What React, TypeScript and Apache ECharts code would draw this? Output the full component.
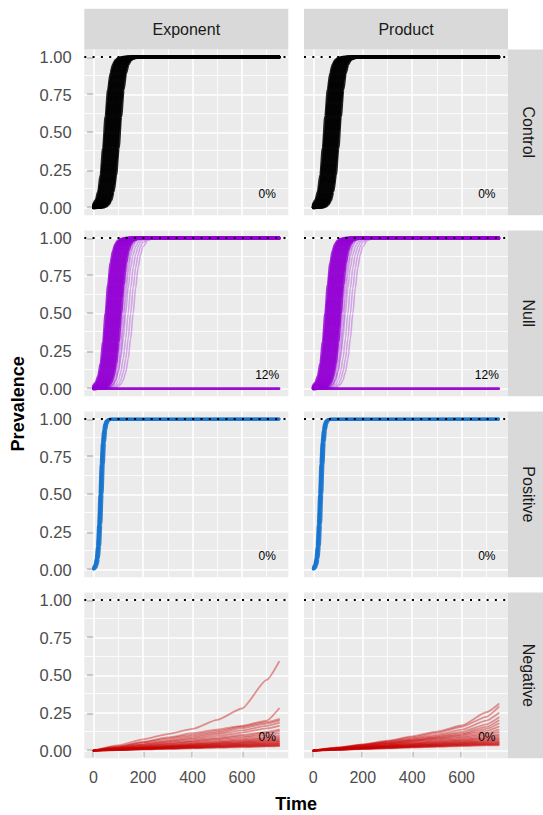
import React, { useEffect, useRef } from "react";
import * as echarts from "echarts";

const COLUMNS = ["Exponent", "Product"];
const ROWS = ["Control", "Null", "Positive", "Negative"];
const ROW_COLORS = ["#000000", "#9400D3", "#1874CD", "#C80000"];
const PCT_LABELS = [["0%", "0%"], ["12%", "12%"], ["0%", "0%"], ["0%", "0%"]];
const X_TICKS = [0, 200, 400, 600];
const X_MINOR = [100, 300, 500, 700];
const Y_TICKS = [0, 0.25, 0.5, 0.75, 1];
const Y_MINOR = [0.125, 0.375, 0.625, 0.875];
const REF_LEVEL = 1;

// time grid for the fast epidemics (Control / Null)
const TIME_FAST = [0, 10, 20, 30, 40, 50, 60, 70, 80, 90, 100, 110, 120, 130, 140, 150, 160, 170, 180, 190, 200, 220, 240, 260, 750];

const CONTROL_RUNS = [
  [0.021,0.049,0.107,0.218,0.395,0.605,0.782,0.893,0.951,0.979,0.991,0.996,0.998,0.999,1,1,1,1,1,1,1,1,1,1,1],
  [0.014,0.032,0.072,0.155,0.3,0.5,0.7,0.845,0.928,0.968,0.986,0.994,0.997,0.999,1,1,1,1,1,1,1,1,1,1,1],
  [0.009,0.021,0.049,0.107,0.218,0.395,0.605,0.782,0.893,0.951,0.979,0.991,0.996,0.998,0.999,1,1,1,1,1,1,1,1,1,1],
  [0.006,0.014,0.032,0.072,0.155,0.3,0.5,0.7,0.845,0.928,0.968,0.986,0.994,0.997,0.999,1,1,1,1,1,1,1,1,1,1],
  [0.004,0.009,0.021,0.049,0.107,0.218,0.395,0.605,0.782,0.893,0.951,0.979,0.991,0.996,0.998,0.999,1,1,1,1,1,1,1,1,1],
  [0.003,0.006,0.014,0.032,0.072,0.155,0.3,0.5,0.7,0.845,0.928,0.968,0.986,0.994,0.997,0.999,1,1,1,1,1,1,1,1,1],
  [0.002,0.004,0.009,0.021,0.049,0.107,0.218,0.395,0.605,0.782,0.893,0.951,0.979,0.991,0.996,0.998,0.999,1,1,1,1,1,1,1,1],
  [0.001,0.003,0.006,0.014,0.032,0.072,0.155,0.3,0.5,0.7,0.845,0.928,0.968,0.986,0.994,0.997,0.999,1,1,1,1,1,1,1,1],
  [0.001,0.002,0.004,0.009,0.021,0.049,0.107,0.218,0.395,0.605,0.782,0.893,0.951,0.979,0.991,0.996,0.998,0.999,1,1,1,1,1,1,1],
  [0.001,0.001,0.003,0.006,0.014,0.032,0.072,0.155,0.3,0.5,0.7,0.845,0.928,0.968,0.986,0.994,0.997,0.999,1,1,1,1,1,1,1],
  [0,0.001,0.002,0.004,0.009,0.021,0.049,0.107,0.218,0.395,0.605,0.782,0.893,0.951,0.979,0.991,0.996,0.998,0.999,1,1,1,1,1,1],
  [0,0.001,0.001,0.003,0.006,0.014,0.032,0.072,0.155,0.3,0.5,0.7,0.845,0.928,0.968,0.986,0.994,0.997,0.999,1,1,1,1,1,1],
  [0,0,0.001,0.002,0.004,0.009,0.021,0.049,0.107,0.218,0.395,0.605,0.782,0.893,0.951,0.979,0.991,0.996,0.998,0.999,1,1,1,1,1],
];

const NULL_CORE_RUNS = [
  [0.018,0.039,0.083,0.168,0.31,0.5,0.69,0.832,0.917,0.961,0.982,0.992,0.996,0.998,0.999,1,1,1,1,1,1,1,1,1,1],
  [0.012,0.027,0.057,0.119,0.231,0.401,0.599,0.769,0.881,0.943,0.973,0.988,0.994,0.998,0.999,1,1,1,1,1,1,1,1,1,1],
  [0.008,0.018,0.039,0.083,0.168,0.31,0.5,0.69,0.832,0.917,0.961,0.982,0.992,0.996,0.998,0.999,1,1,1,1,1,1,1,1,1],
  [0.005,0.012,0.027,0.057,0.119,0.231,0.401,0.599,0.769,0.881,0.943,0.973,0.988,0.994,0.998,0.999,1,1,1,1,1,1,1,1,1],
  [0.004,0.008,0.018,0.039,0.083,0.168,0.31,0.5,0.69,0.832,0.917,0.961,0.982,0.992,0.996,0.998,0.999,1,1,1,1,1,1,1,1],
  [0.002,0.005,0.012,0.027,0.057,0.119,0.231,0.401,0.599,0.769,0.881,0.943,0.973,0.988,0.994,0.998,0.999,1,1,1,1,1,1,1,1],
  [0.002,0.004,0.008,0.018,0.039,0.083,0.168,0.31,0.5,0.69,0.832,0.917,0.961,0.982,0.992,0.996,0.998,0.999,1,1,1,1,1,1,1],
  [0.001,0.002,0.005,0.012,0.027,0.057,0.119,0.231,0.401,0.599,0.769,0.881,0.943,0.973,0.988,0.994,0.998,0.999,1,1,1,1,1,1,1],
  [0.001,0.002,0.004,0.008,0.018,0.039,0.083,0.168,0.31,0.5,0.69,0.832,0.917,0.961,0.982,0.992,0.996,0.998,0.999,1,1,1,1,1,1],
  [0,0.001,0.002,0.005,0.012,0.027,0.057,0.119,0.231,0.401,0.599,0.769,0.881,0.943,0.973,0.988,0.994,0.998,0.999,1,1,1,1,1,1],
  [0,0.001,0.002,0.004,0.008,0.018,0.039,0.083,0.168,0.31,0.5,0.69,0.832,0.917,0.961,0.982,0.992,0.996,0.998,0.999,1,1,1,1,1],
  [0,0,0.001,0.002,0.005,0.012,0.027,0.057,0.119,0.231,0.401,0.599,0.769,0.881,0.943,0.973,0.988,0.994,0.998,0.999,1,1,1,1,1],
  [0,0,0.001,0.002,0.004,0.008,0.018,0.039,0.083,0.168,0.31,0.5,0.69,0.832,0.917,0.961,0.982,0.992,0.996,0.998,0.999,1,1,1,1],
];

const NULL_LATE_RUNS = [
  [0,0,0,0.001,0.002,0.005,0.012,0.027,0.057,0.119,0.231,0.401,0.599,0.769,0.881,0.943,0.973,0.988,0.994,0.998,0.999,1,1,1,1],
  [0,0,0,0.001,0.002,0.004,0.008,0.018,0.039,0.083,0.168,0.31,0.5,0.69,0.832,0.917,0.961,0.982,0.992,0.996,0.998,1,1,1,1],
  [0,0,0,0,0.001,0.002,0.005,0.012,0.027,0.057,0.119,0.231,0.401,0.599,0.769,0.881,0.943,0.973,0.988,0.994,0.998,1,1,1,1],
  [0,0,0,0.001,0.002,0.004,0.007,0.015,0.029,0.057,0.109,0.198,0.332,0.5,0.668,0.802,0.891,0.943,0.971,0.985,0.993,0.998,1,1,1],
  [0,0,0,0,0.001,0.002,0.004,0.007,0.015,0.029,0.057,0.109,0.198,0.332,0.5,0.668,0.802,0.891,0.943,0.971,0.985,0.996,0.999,1,1],
  [0,0,0,0,0,0.001,0.002,0.004,0.007,0.015,0.029,0.057,0.109,0.198,0.332,0.5,0.668,0.802,0.891,0.943,0.971,0.993,0.998,1,1],
  [0,0,0,0,0,0,0.001,0.002,0.004,0.007,0.015,0.029,0.057,0.109,0.198,0.332,0.5,0.668,0.802,0.891,0.943,0.985,0.996,0.999,1],
];

// runs that never took off (12%)
const NULL_FLAT_T = [0, 750];
const NULL_FLAT_V = [0, 0];

const TIME_POS = [0, 5, 10, 15, 20, 25, 30, 35, 40, 45, 50, 55, 60, 65, 70, 750];
const POSITIVE_RUNS = [
  [0.014,0.032,0.072,0.155,0.3,0.5,0.7,0.845,0.928,0.968,0.986,0.994,0.997,0.999,1,1],
  [0.009,0.021,0.049,0.107,0.218,0.395,0.605,0.782,0.893,0.951,0.979,0.991,0.996,0.998,0.999,1],
  [0.006,0.014,0.032,0.072,0.155,0.3,0.5,0.7,0.845,0.928,0.968,0.986,0.994,0.997,0.999,1],
  [0.003,0.006,0.014,0.032,0.072,0.155,0.3,0.5,0.7,0.845,0.928,0.968,0.986,0.994,0.997,1],
];

const TIME_NEG = [0, 100, 200, 300, 400, 500, 600, 700, 750];
const NEG_EXPONENT_RUNS = [
  [0,0.035,0.075,0.11,0.145,0.205,0.28,0.47,0.59],
  [0,0.027,0.058,0.088,0.116,0.14,0.165,0.2,0.28],
  [0,0.028,0.055,0.08,0.105,0.13,0.16,0.19,0.21],
  [0,0.022,0.047,0.07,0.095,0.12,0.15,0.18,0.2],
  [0,0.02,0.04,0.062,0.085,0.11,0.135,0.165,0.185],
  [0,0.019,0.038,0.058,0.077,0.098,0.12,0.148,0.165],
  [0,0.016,0.033,0.05,0.067,0.085,0.104,0.125,0.14],
  [0,0.015,0.03,0.046,0.062,0.078,0.095,0.116,0.13],
  [0,0.014,0.028,0.042,0.056,0.07,0.085,0.103,0.115],
  [0,0.012,0.025,0.037,0.05,0.062,0.075,0.09,0.1],
  [0,0.011,0.022,0.033,0.045,0.056,0.068,0.082,0.09],
  [0,0.01,0.021,0.031,0.041,0.052,0.063,0.075,0.082],
  [0,0.009,0.019,0.028,0.038,0.047,0.057,0.068,0.075],
  [0,0.009,0.018,0.027,0.036,0.045,0.054,0.063,0.068],
  [0,0.008,0.016,0.024,0.033,0.041,0.05,0.058,0.063],
  [0,0.008,0.015,0.023,0.031,0.038,0.046,0.054,0.058],
  [0,0.007,0.014,0.021,0.028,0.035,0.042,0.049,0.053],
  [0,0.006,0.013,0.019,0.026,0.032,0.039,0.045,0.049],
  [0,0.006,0.012,0.018,0.024,0.03,0.036,0.041,0.045],
  [0,0.005,0.011,0.016,0.022,0.027,0.033,0.038,0.041],
  [0,0.005,0.01,0.015,0.02,0.025,0.03,0.034,0.037],
  [0,0.004,0.009,0.013,0.018,0.022,0.027,0.031,0.033],
  [0,0.004,0.008,0.012,0.016,0.02,0.024,0.028,0.03],
];
const NEG_PRODUCT_RUNS = [
  [0,0.02,0.042,0.066,0.095,0.127,0.167,0.255,0.31],
  [0,0.021,0.04,0.062,0.088,0.118,0.158,0.225,0.29],
  [0,0.018,0.037,0.058,0.08,0.105,0.14,0.2,0.25],
  [0,0.017,0.035,0.054,0.075,0.097,0.125,0.175,0.22],
  [0,0.016,0.033,0.05,0.07,0.09,0.115,0.158,0.2],
  [0,0.015,0.031,0.048,0.066,0.085,0.107,0.145,0.18],
  [0,0.014,0.029,0.045,0.062,0.08,0.1,0.132,0.16],
  [0,0.013,0.027,0.042,0.058,0.074,0.092,0.118,0.14],
  [0,0.012,0.025,0.039,0.053,0.068,0.085,0.108,0.125],
  [0,0.011,0.023,0.036,0.049,0.062,0.077,0.096,0.11],
  [0,0.011,0.022,0.034,0.046,0.058,0.071,0.087,0.1],
  [0,0.01,0.021,0.032,0.043,0.054,0.066,0.08,0.09],
  [0,0.01,0.02,0.03,0.04,0.05,0.061,0.073,0.082],
  [0,0.009,0.019,0.028,0.037,0.047,0.057,0.067,0.075],
  [0,0.009,0.018,0.026,0.035,0.044,0.053,0.062,0.068],
  [0,0.008,0.017,0.025,0.033,0.041,0.049,0.057,0.062],
  [0,0.008,0.016,0.023,0.031,0.038,0.046,0.053,0.057],
  [0,0.007,0.015,0.022,0.029,0.036,0.043,0.049,0.052],
  [0,0.007,0.014,0.02,0.027,0.033,0.04,0.045,0.048],
  [0,0.006,0.013,0.019,0.025,0.031,0.037,0.042,0.044],
  [0,0.006,0.012,0.017,0.023,0.028,0.034,0.038,0.04],
  [0,0.005,0.011,0.016,0.021,0.026,0.031,0.035,0.036],
];

const FONT = "'Liberation Sans', Arial, Helvetica, sans-serif";
const W = 543;
const H = 815;
const COL_LEFT = [84.3, 304];
const PANEL_W = 204;
const ROW_TOP = [49.5, 230.5, 411.5, 592.5];
const PANEL_H = 165.7;
const STRIP = 40.7;

type RunGroup = { times: number[]; runs: number[][]; width: number; opacity: number; smooth: number };

function groupsFor(row: number, col: number): RunGroup[] {
  if (row === 0) return [{ times: TIME_FAST, runs: CONTROL_RUNS, width: 3, opacity: 0.85, smooth: 0.3 }];
  if (row === 1)
    return [
      { times: NULL_FLAT_T, runs: [NULL_FLAT_V], width: 2.8, opacity: 0.95, smooth: 0 },
      { times: TIME_FAST, runs: NULL_LATE_RUNS, width: 1.6, opacity: 0.3, smooth: 0.3 },
      { times: TIME_FAST, runs: NULL_CORE_RUNS, width: 3, opacity: 0.8, smooth: 0.3 },
    ];
  if (row === 2) return [{ times: TIME_POS, runs: POSITIVE_RUNS, width: 2.8, opacity: 0.9, smooth: 0.3 }];
  return [{ times: TIME_NEG, runs: col === 0 ? NEG_EXPONENT_RUNS : NEG_PRODUCT_RUNS, width: 1.8, opacity: 0.4, smooth: 0.2 }];
}

function buildOption() {
  const grid: any[] = [];
  const xAxis: any[] = [];
  const yAxis: any[] = [];
  const series: any[] = [];
  const graphic: any[] = [];

  ROWS.forEach((rowName, r) => {
    COLUMNS.forEach((colName, c) => {
      const g = grid.length;
      const isBottom = r === ROWS.length - 1;
      const isLeft = c === 0;
      grid.push({
        left: COL_LEFT[c],
        top: ROW_TOP[r],
        width: PANEL_W,
        height: PANEL_H,
        show: true,
        backgroundColor: "#EBEBEB",
        borderWidth: 0,
        containLabel: false,
      });
      xAxis.push({
        type: "value",
        gridIndex: g,
        min: -37.5,
        max: 787.5,
        axisLine: { show: false },
        splitLine: { show: false },
        axisTick: { show: isBottom, customValues: X_TICKS, length: 6.6, lineStyle: { color: "#333333", width: 1.4 } },
        axisLabel: {
          show: isBottom,
          customValues: X_TICKS,
          color: "#4D4D4D",
          fontSize: 16,
          fontFamily: FONT,
          margin: 11,
        },
      });
      yAxis.push({
        type: "value",
        gridIndex: g,
        min: -0.05,
        max: 1.05,
        axisLine: { show: false },
        splitLine: { show: false },
        axisTick: { show: isLeft, customValues: Y_TICKS, length: 6.6, lineStyle: { color: "#333333", width: 1.4 } },
        axisLabel: {
          show: isLeft,
          customValues: Y_TICKS,
          formatter: (v: number) => v.toFixed(2),
          color: "#4D4D4D",
          fontSize: 16.5,
          fontFamily: FONT,
          margin: 12.6,
        },
      });

      const color = ROW_COLORS[r];
      const groups = groupsFor(r, c);
      const panelSeries: any[] = [];
      groups.forEach((grp) => {
        grp.runs.forEach((run) => {
          panelSeries.push({
            type: "line",
            xAxisIndex: g,
            yAxisIndex: g,
            data: grp.times.map((t, i) => [t, run[i]]),
            showSymbol: false,
            symbol: "none",
            silent: true,
            smooth: grp.smooth,
            smoothMonotone: "x",
            z: 10,
            lineStyle: { color, width: grp.width, opacity: grp.opacity, cap: "round", join: "round" },
            animation: false,
          });
        });
      });
      // gridlines (under the runs)
      panelSeries[0].markLine = {
        silent: true,
        z: 2,
        symbol: ["none", "none"],
        label: { show: false },
        animation: false,
        data: [
          ...X_MINOR.map((v) => ({ xAxis: v, lineStyle: { color: "#FFFFFF", width: 0.8, type: "solid", opacity: 1 } })),
          ...Y_MINOR.map((v) => ({ yAxis: v, lineStyle: { color: "#FFFFFF", width: 0.8, type: "solid", opacity: 1 } })),
          ...X_TICKS.map((v) => ({ xAxis: v, lineStyle: { color: "#FFFFFF", width: 1.6, type: "solid", opacity: 1 } })),
          ...Y_TICKS.map((v) => ({ yAxis: v, lineStyle: { color: "#FFFFFF", width: 1.6, type: "solid", opacity: 1 } })),
        ],
      };
      // dotted reference line at prevalence 1 and the percentage label (on top)
      const last = panelSeries[panelSeries.length - 1];
      last.markLine = {
        silent: true,
        z: 30,
        symbol: ["none", "none"],
        label: { show: false },
        animation: false,
        data: [{ yAxis: REF_LEVEL, lineStyle: { color: "#000000", width: 2, type: [2, 6.3], opacity: 1 } }],
      };
      last.markPoint = {
        silent: true,
        z: 31,
        symbol: "circle",
        symbolSize: 0,
        animation: false,
        label: { show: true, position: "inside", color: "#000000", fontSize: 12, fontFamily: FONT },
        data: [{ coord: [702, 0.09], value: PCT_LABELS[r][c], label: { formatter: PCT_LABELS[r][c], color: "#000000" } }],
      };
      series.push(...panelSeries);
    });
  });

  // strips
  COLUMNS.forEach((name, c) => {
    graphic.push({
      type: "rect",
      shape: { x: COL_LEFT[c], y: ROW_TOP[0] - STRIP, width: PANEL_W, height: STRIP },
      style: { fill: "#D9D9D9" },
      silent: true,
    });
    graphic.push({
      type: "text",
      x: COL_LEFT[c] + PANEL_W / 2,
      y: ROW_TOP[0] - STRIP / 2,
      style: { text: name, fill: "#1A1A1A", fontSize: 16, fontFamily: FONT, textAlign: "center", textVerticalAlign: "middle" },
      silent: true,
    });
  });
  const stripX = COL_LEFT[1] + PANEL_W;
  ROWS.forEach((name, r) => {
    graphic.push({
      type: "rect",
      shape: { x: stripX, y: ROW_TOP[r], width: STRIP, height: PANEL_H },
      style: { fill: "#D9D9D9" },
      silent: true,
    });
    graphic.push({
      type: "text",
      x: stripX + STRIP / 2,
      y: ROW_TOP[r] + PANEL_H / 2,
      rotation: -Math.PI / 2,
      style: { text: name, fill: "#1A1A1A", fontSize: 16, fontFamily: FONT, textAlign: "center", textVerticalAlign: "middle" },
      silent: true,
    });
  });
  graphic.push({
    type: "text",
    x: (COL_LEFT[0] + COL_LEFT[1] + PANEL_W) / 2,
    y: 804,
    style: { text: "Time", fill: "#000000", fontSize: 18, fontWeight: "bold", fontFamily: FONT, textAlign: "center", textVerticalAlign: "middle" },
    silent: true,
  });
  graphic.push({
    type: "text",
    x: 17.5,
    y: (ROW_TOP[0] + ROW_TOP[3] + PANEL_H) / 2,
    rotation: Math.PI / 2,
    style: { text: "Prevalence", fill: "#000000", fontSize: 18, fontWeight: "bold", fontFamily: FONT, textAlign: "center", textVerticalAlign: "middle" },
    silent: true,
  });

  return {
    animation: false,
    backgroundColor: "#FFFFFF",
    textStyle: { fontFamily: FONT },
    grid,
    xAxis,
    yAxis,
    series,
    graphic,
  };
}

export default function App() {
  const ref = useRef<HTMLDivElement>(null);
  useEffect(() => {
    if (!ref.current) return;
    const chart = echarts.init(ref.current, undefined, { renderer: "svg", width: W, height: H });
    chart.setOption(buildOption() as any);
    return () => chart.dispose();
  }, []);
  return <div ref={ref} style={{ position: "absolute", left: 0, top: 0, width: W, height: H }} />;
}
